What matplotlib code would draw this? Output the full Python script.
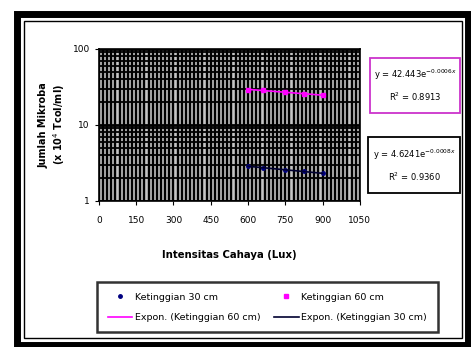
import matplotlib.pyplot as plt
import numpy as np
from matplotlib.patches import Rectangle
from matplotlib.ticker import NullFormatter

# data
x_30 = [600, 660, 750, 825, 900]
y_30 = [2.85, 2.75, 2.55, 2.45, 2.3]
x_60 = [600, 660, 750, 825, 900]
y_60 = [29.0, 28.5, 27.5, 25.5, 24.5]

eq_60 = "y = 42.443e$^{-0.0006x}$\nR$^2$ = 0.8913"
eq_30 = "y = 4.6241e$^{-0.0008x}$\nR$^2$ = 0.9360"

xticks = [0, 150, 300, 450, 600, 750, 900, 1050]

plt.rcParams['font.family'] = ['DejaVu Sans']

fig = plt.figure(figsize=(4.71, 3.47), dpi=100)
ax = fig.add_axes([0.210, 0.421, 0.554, 0.438])
ax.set_facecolor('#c4c4c4')

ax.set_yscale('log')
ax.set_xlim(0, 1050)
ax.set_ylim(1, 100)
ax.set_xticks(xticks)
ax.xaxis.remove_overlapping_locs = False
ax.set_xticks(np.linspace(0, 1050, 64), minor=True)
ax.set_yticks([1, 10, 100])
ax.set_yticklabels(['1', '10', '100'])
ax.yaxis.set_minor_formatter(NullFormatter())

ax.xaxis.grid(False, which='major')
ax.xaxis.grid(True, which='minor', color='black', lw=1.7)
ax.yaxis.grid(True, which='major', color='black', lw=2.0)
ax.yaxis.grid(True, which='minor', color='black', lw=1.3)
ax.set_axisbelow(True)
ax.tick_params(which='major', labelsize=6.5, length=3, direction='out')
ax.tick_params(axis='x', which='major', pad=8)
ax.tick_params(which='minor', length=0)
for s in ax.spines.values():
    s.set_linewidth(1.2)

# trend lines
xf = np.array([min(x_60), max(x_60)])
p60 = np.polyfit(x_60, np.log(y_60), 1)
p30 = np.polyfit(x_30, np.log(y_30), 1)
ax.plot(x_60, y_60, 's', color='#ff00ff', ms=3.5, label='Ketinggian 60 cm', zorder=3)
ax.plot(x_30, y_30, 'o', color='#000080', ms=2.5, label='Ketinggian 30 cm', zorder=3)
ax.plot(xf, np.exp(np.polyval(p60, xf)), color='#ff00ff', lw=1.2,
        label='Expon. (Ketinggian 60 cm)', zorder=3)
ax.plot(xf, np.exp(np.polyval(p30, xf)), color='#000030', lw=1.2,
        label='Expon. (Ketinggian 30 cm)', zorder=3)

ax.set_xlabel('Intensitas Cahaya (Lux)', fontsize=7.3, fontweight='bold', labelpad=18)
ax.set_ylabel('Jumlah Mikroba\n(x 10$^4$ Tcol/ml)', fontsize=7, fontweight='bold')

# equation boxes
fig.patches.append(Rectangle((0.786, 0.674), 0.191, 0.159, transform=fig.transFigure,
                             fill=False, ec='#cc33cc', lw=1.3))
fig.patches.append(Rectangle((0.781, 0.444), 0.196, 0.161, transform=fig.transFigure,
                             fill=False, ec='black', lw=1.3))
fig.text(0.881, 0.754, eq_60, fontsize=6, ha='center', va='center', linespacing=1.8)
fig.text(0.879, 0.524, eq_30, fontsize=6, ha='center', va='center', linespacing=1.8)

h, l = ax.get_legend_handles_labels()
order = [1, 2, 0, 3]
leg = fig.legend([h[i] for i in order], [l[i] for i in order], ncol=2,
                 loc='center', bbox_to_anchor=(0.568, 0.114), fontsize=6.8,
                 frameon=True, fancybox=False, edgecolor='black',
                 handlelength=2.6, handletextpad=0.3, columnspacing=1.4,
                 borderpad=1.1, labelspacing=1.2)
leg.get_frame().set_linewidth(1.8)

# outer frames
fig.patches.append(Rectangle((0.037, 0.007), 0.957, 0.954, transform=fig.transFigure,
                             fill=False, ec='black', lw=5))
fig.patches.append(Rectangle((0.051, 0.026), 0.930, 0.913, transform=fig.transFigure,
                             fill=False, ec='black', lw=1))

fig.savefig('out.png', dpi=100)
